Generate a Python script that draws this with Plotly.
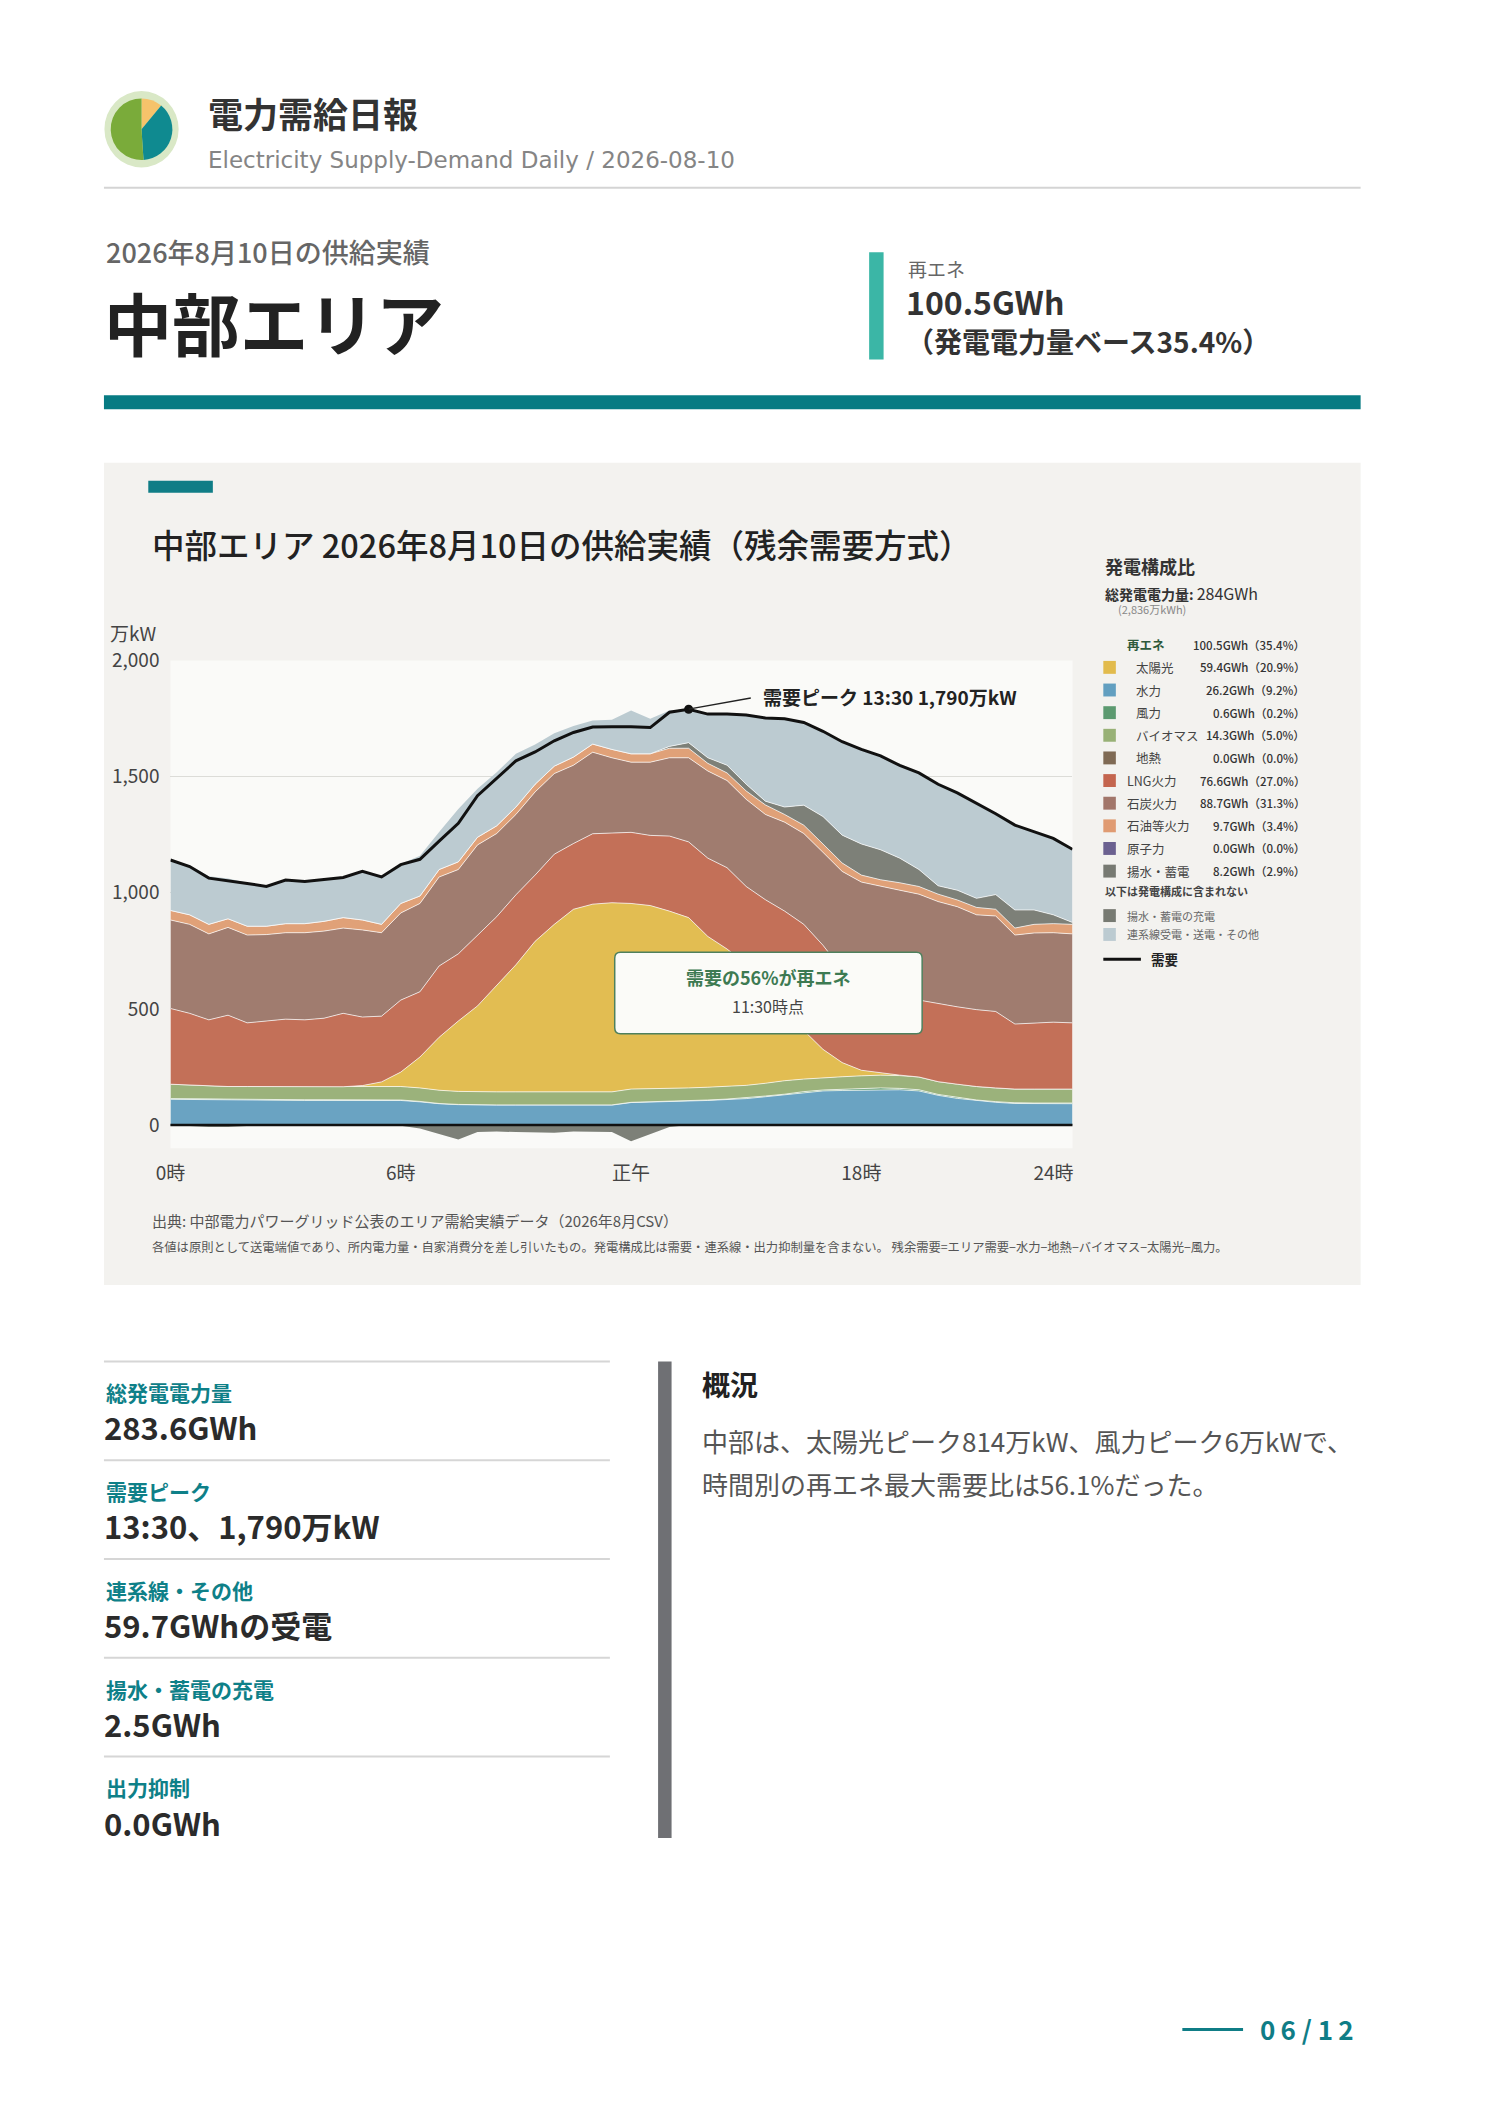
import plotly.graph_objects as go

# the page keeps the browser's 8px body margin, so layout positions are shifted by it
W, H, PAD = 1488, 2105, 8
FONT = "Noto Sans CJK JP"

# 30分値（万kW） 0:00〜23:30
times = [f"{h}:{m:02d}" for h in range(24) for m in (0, 30)]
hours = [h + m / 60 for h in range(24) for m in (0, 30)]

demand = [1141, 1113, 1063, 1053, 1040, 1027, 1055, 1048, 1056, 1066, 1092, 1068,
          1121, 1144, 1222, 1299, 1418, 1491, 1568, 1606, 1654, 1690, 1713, 1715,
          1715, 1711, 1777, 1790, 1769, 1769, 1765, 1752, 1749, 1733, 1695, 1650,
          1617, 1589, 1548, 1516, 1467, 1430, 1386, 1340, 1291, 1263, 1234, 1187]
hydro = [111, 110, 108, 108, 108, 107, 107, 106, 106, 106, 106, 106,
         106, 100, 92, 88, 86, 86, 86, 86, 86, 86, 86, 86,
         97, 99, 100, 102, 106, 110, 114, 122, 130, 140, 147, 149,
         150, 154, 152, 147, 128, 115, 105, 98, 93, 92, 92, 92]
wind = [3, 3, 3, 4, 4, 4, 3, 3, 3, 2, 2, 2,
        2, 2, 1, 1, 1, 1, 1, 1, 1, 1, 1, 1,
        1, 1, 1, 2, 2, 2, 3, 3, 3, 4, 4, 5,
        5, 6, 6, 5, 4, 4, 3, 3, 3, 3, 3, 3]
biomass = [62, 59, 57, 54, 54, 55, 56, 56, 56, 57, 58, 58,
           58, 58, 57, 56, 56, 56, 56, 56, 56, 56, 56, 56,
           57, 56, 57, 56, 55, 55, 54, 55, 58, 54, 53, 54,
           57, 55, 55, 55, 55, 57, 58, 59, 59, 60, 60, 60]
solar = [0, 0, 0, 0, 0, 0, 0, 0, 0, 0, 4, 20,
         62, 133, 228, 303, 370, 460, 547, 648, 721, 786, 808, 814,
         799, 789, 763, 733, 649, 591, 522, 423, 314, 209, 122, 61,
         24, 10, 2, 0, 0, 0, 0, 0, 0, 0, 0, 0]
lng = [326, 309, 285, 307, 274, 282, 290, 288, 295, 316, 295, 283,
       310, 281, 307, 289, 302, 294, 301, 285, 302, 283, 303, 301,
       306, 302, 323, 326, 337, 350, 334, 367, 416, 457, 448, 399,
       351, 345, 342, 331, 335, 333, 331, 329, 280, 285, 288, 285]
coal = [381, 383, 370, 378, 378, 372, 372, 375, 375, 367, 375, 359,
        375, 380, 383, 363, 391, 358, 346, 358, 347, 337, 351, 323,
        302, 315, 337, 362, 375, 375, 375, 367, 383, 391, 400, 424,
        459, 457, 454, 456, 440, 431, 408, 411, 383, 387, 385, 383]
oil = [41, 41, 41, 37, 38, 36, 39, 39, 42, 45, 43, 36,
       41, 32, 32, 33, 33, 33, 32, 33, 32, 35, 35, 36,
       36, 36, 41, 41, 33, 33, 36, 41, 33, 36, 36, 36,
       30, 29, 32, 33, 32, 29, 32, 29, 30, 37, 39, 41]
pumped = [0, 0, 0, 0, 0, 0, 0, 0, 0, 0, 0, 0,
          0, 0, 0, 0, 0, 0, 0, 0, 0, 0, 0, 0,
          0, 0, 8, 24, 24, 33, 29, 16, 32, 86, 118, 120,
          134, 129, 106, 73, 36, 42, 39, 63, 78, 62, 38, 8]
tie = [217, 213, 207, 173, 187, 171, 188, 181, 179, 173, 209, 204,
       170, 173, 162, 228, 209, 231, 229, 171, 142, 134, 101, 128,
       187, 151, 155, 144, 188, 220, 298, 358, 380, 356, 367, 402,
       407, 404, 399, 416, 437, 419, 410, 348, 365, 337, 329, 315]
charge = [0, -5, -8, -8, -3, 0, 0, 0, 0, 0, 0, 0,
          -3, -15, -40, -62, -30, -28, -30, -32, -33, -28, -28, -30,
          -70, -38, -8, 0, 0, 0, 0, 0, 0, 0, 0, 0,
          0, 0, 0, 0, 0, 0, 0, 0, 0, 0, 0, 0]

tick_vals = [0, 6, 12, 18, 23.5]
tick_text = ["0時", "6時", "正午", "18時", "24時" + "\u2002" * 4]

logo_share = [11, 38, 51]
logo_colors = ["#f6c36b", "#0f8a90", "#7aab3a"]

legend_rows = [
    ("太陽光", "#e2bb4c", "59.4GWh（20.9%）", True),
    ("水力", "#629fc0", "26.2GWh（9.2%）", True),
    ("風力", "#5c9a70", "0.6GWh（0.2%）", True),
    ("バイオマス", "#98b176", "14.3GWh（5.0%）", True),
    ("地熱", "#7f6a54", "0.0GWh（0.0%）", True),
    ("LNG火力", "#c4654e", "76.6GWh（27.0%）", False),
    ("石炭火力", "#a2766a", "88.7GWh（31.3%）", False),
    ("石油等火力", "#e09b72", "9.7GWh（3.4%）", False),
    ("原子力", "#6b6190", "0.0GWh（0.0%）", False),
    ("揚水・蓄電", "#777a72", "8.2GWh（2.9%）", False),
]
kpis = [("総発電電力量", "283.6GWh"), ("需要ピーク", "13:30、1,790万kW"),
        ("連系線・その他", "59.7GWhの受電"), ("揚水・蓄電の充電", "2.5GWh"),
        ("出力抑制", "0.0GWh")]

shapes, ann = [], []


def X(v):
    return (v - PAD) / W


def Y(v):
    return 1 - (v - PAD) / H


def label(x, y, s, size, color="#333", weight=400, anchor="left", family=FONT):
    ann.append(dict(x=X(x), y=Y(y), xref="paper", yref="paper", text=s, showarrow=False,
                    xanchor=anchor, yanchor="middle",
                    font=dict(family=family, size=size, color=color, weight=weight)))


def box(x0, y0, x1, y1, color, layer="below"):
    shapes.append(dict(type="rect", xref="paper", yref="paper", x0=X(x0), x1=X(x1),
                       y0=Y(y1), y1=Y(y0), fillcolor=color, line=dict(width=0), layer=layer))


def hline(x0, x1, y, color, width):
    shapes.append(dict(type="line", xref="paper", yref="paper", x0=X(x0), x1=X(x1),
                       y0=Y(y), y1=Y(y), line=dict(color=color, width=width)))


def rounded(x0, y0, x1, y1, r):
    return (f"M {X(x0 + r)},{Y(y0)} L {X(x1 - r)},{Y(y0)} Q {X(x1)},{Y(y0)} {X(x1)},{Y(y0 + r)} "
            f"L {X(x1)},{Y(y1 - r)} Q {X(x1)},{Y(y1)} {X(x1 - r)},{Y(y1)} L {X(x0 + r)},{Y(y1)} "
            f"Q {X(x0)},{Y(y1)} {X(x0)},{Y(y1 - r)} L {X(x0)},{Y(y0 + r)} Q {X(x0)},{Y(y0)} {X(x0 + r)},{Y(y0)} Z")


fig = go.Figure()

# ---- header
shapes.append(dict(type="circle", xref="paper", yref="paper", x0=X(131 - 38.5), x1=X(131 + 38.5),
                   y0=Y(115 + 38.5), y1=Y(115 - 38.5), fillcolor="#d9e8c6", line=dict(width=0), layer="below"))
fig.add_trace(go.Pie(values=logo_share, marker=dict(colors=logo_colors, line=dict(width=0)),
                     sort=False, direction="clockwise", rotation=0, textinfo="none", hoverinfo="skip",
                     showlegend=False,
                     domain=dict(x=[X(131 - 32), X(131 + 32)], y=[Y(115 + 32), Y(115 - 32)])))
label(198, 98, "電力需給日報", 35, "#333", 700)
label(198, 146, "Electricity Supply-Demand Daily / 2026-08-10", 23, "#858585", 400, "left", "DejaVu Sans")
hline(92, 1396, 174, "#d4d4d4", 2)
label(92, 238, "2026年8月10日の供給実績", 27, "#666", 500)
label(90, 309, "中部エリア", 68, "#222", 700)
box(886, 239, 901, 347, "#3bb6a6")
label(924, 255, "再エネ", 19, "#666")
label(922, 288, "100.5GWh", 32, "#333", 700)
label(922, 328, "（発電電力量ベース35.4%）", 28, "#333", 700)
box(92, 383, 1396, 397, "#077b83")

# ---- chart panel
box(92, 451, 1396, 1279, "#f3f2ef")
box(161, 650, 1097, 1141.4, "#fafaf8")
box(138, 469, 205, 481, "#0f7d86")
label(140, 532, "中部エリア 2026年8月10日の供給実績（残余需要方式）", 32.5, "#222", 500)
label(148, 622, "万kW", 19, "#444", 400, "right")

layers = [
    (hydro, "#6aa3c2"), (wind, "#5e9c70"), (biomass, "#9bb27b"), (solar, "#e2bd52"),
    (lng, "#c37058"), (coal, "#a07c6f"), (oil, "#e0a178"), (pumped, "#7d8078"), (tie, "#bccbd1"),
]
for vals, color in layers:
    fig.add_trace(go.Scatter(x=hours, y=vals, stackgroup="supply", mode="lines", fillcolor=color,
                             line=dict(width=0 if vals is tie else 1, color="rgba(255,255,255,0.7)"),
                             hoverinfo="skip", showlegend=False))
fig.add_trace(go.Scatter(x=hours, y=charge, stackgroup="charge", mode="lines", fillcolor="#7d8078",
                         line=dict(width=0, color="#7d8078"), hoverinfo="skip", showlegend=False))
fig.add_trace(go.Scatter(x=hours, y=demand, mode="lines", line=dict(color="#111", width=3),
                         hoverinfo="skip", showlegend=False))

pk = demand.index(max(demand))
fig.add_trace(go.Scatter(x=[hours[pk]], y=[demand[pk]], mode="markers",
                         marker=dict(color="#111", size=9), hoverinfo="skip", showlegend=False))
ann.append(dict(x=hours[pk], y=demand[pk], xref="x", yref="y",
                text=f"需要ピーク {times[pk]} {demand[pk]:,}万kW", showarrow=True, arrowhead=0,
                arrowwidth=1.3, arrowcolor="#222", ax=72, ay=-13, startstandoff=10,
                xanchor="left", yanchor="middle",
                font=dict(family=FONT, size=19, color="#222", weight=700)))

shapes.append(dict(type="line", xref="paper", yref="y", x0=X(161), x1=X(1097), y0=0, y1=0,
                   line=dict(color="#111", width=2.5), layer="above"))

shapes.append(dict(type="path", xref="paper", yref="paper", path=rounded(622, 944, 941, 1026, 6),
                   fillcolor="#fbfbf8", line=dict(color="#4e805d", width=1.5), layer="above"))
label(781.5, 969, "需要の56%が再エネ", 18, "#3d7a52", 700, "center")
label(781.5, 998, "11:30時点", 16, "#444", 400, "center")

# ---- legend
label(1129, 555, "発電構成比", 18, "#333", 700)
label(1129, 582, "<b>総発電電力量:</b> <span style='font-size:16px'>284GWh</span>", 14, "#333")
label(1142, 598, "(2,836万kWh)", 11, "#888")
label(1151, 634, "再エネ", 12.5, "#2e5a3c", 700)
label(1340, 634, "100.5GWh（35.4%）", 11.5, "#333", 500, "right")
for i, (name, color, value, indent) in enumerate(legend_rows):
    y = 657 + i * 22.8
    box(1129, y - 6.5, 1142, y + 6.5, color, "above")
    label(1161 if indent else 1151, y, name, 12.5, "#444")
    label(1340, y, value, 11.5, "#333", 500, "right")
label(1129, 882, "以下は発電構成に含まれない", 11, "#444", 700)
for y, name, color in [(907, "揚水・蓄電の充電", "#777a72"), (926, "連系線受電・送電・その他", "#bccbd1")]:
    box(1129, y - 6.5, 1142, y + 6.5, color, "above")
    label(1151, y, name, 11, "#666")
hline(1129, 1168, 951, "#111", 3)
label(1176, 951, "需要", 13.5, "#222", 700)

label(140, 1214, "出典: 中部電力パワーグリッド公表のエリア需給実績データ（2026年8月CSV）", 15, "#555")
label(140, 1241, "各値は原則として送電端値であり、所内電力量・自家消費分を差し引いたもの。発電構成比は需要・連系線・出力抑制量を含まない。"
      " 残余需要=エリア需要−水力−地熱−バイオマス−太陽光−風力。", 12.3, "#555")

# ---- bottom section
for i, (name, value) in enumerate(kpis):
    top = 1356 + i * 99.5
    hline(92, 617, top, "#d6d6d6", 2)
    label(92, top + 31, name, 21, "#0e8088", 700)
    label(90, top + 66, value, 31, "#2b2b2b", 700)
box(667, 1356, 681, 1836, "#6f7074")
label(710, 1379, "概況", 28, "#222", 700)
label(710, 1436, "中部は、太陽光ピーク814万kW、風力ピーク6万kWで、", 26, "#555")
label(710, 1479, "時間別の再エネ最大需要比は56.1%だった。", 26, "#555")

hline(1211, 1274, 2029, "#0f7d86", 3)
label(1290, 2028, "0\u20096 / 1\u20092", 26, "#0f7d86", 700)

fig.update_layout(
    width=W, height=H, margin=dict(l=0, r=0, t=0, b=0),
    paper_bgcolor="white", plot_bgcolor="rgba(0,0,0,0)",
    font=dict(family=FONT), showlegend=False,
    shapes=shapes, annotations=ann,
    xaxis=dict(domain=[X(161), X(1097)], range=[0, 23.5], tickvals=tick_vals, ticktext=tick_text,
               showgrid=False, zeroline=False, showline=False, ticks="", ticklabelstandoff=12,
               tickfont=dict(size=19, color="#444")),
    yaxis=dict(domain=[Y(1141.4), Y(650)], range=[-100, 2000], tickvals=[0, 500, 1000, 1500, 2000],
               tickformat=",", showgrid=True, gridcolor="#dcdcd8", zeroline=False, showline=False,
               ticks="", ticklabelstandoff=10, tickfont=dict(size=19, color="#444")),
)

fig.write_html("out.html", config={"displayModeBar": False})
